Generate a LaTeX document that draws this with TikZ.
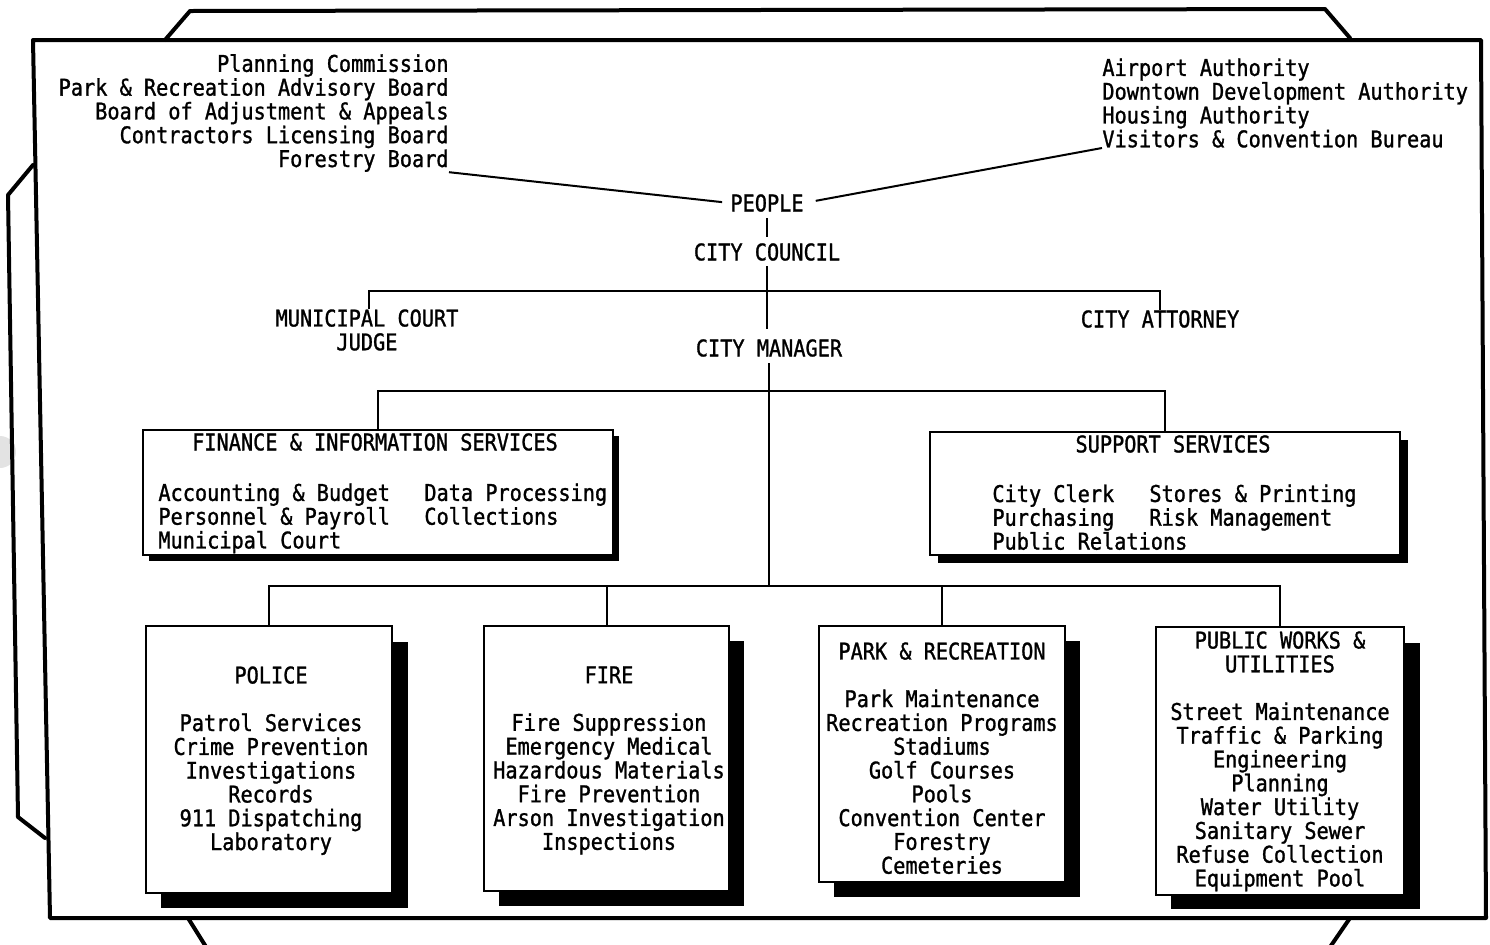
\documentclass[tikz,border=0pt]{standalone}
\usepackage{fontspec}
\newfontfamily\dm[FakeStretch=0.88,FakeBold=1.2]{DejaVu Sans Mono}
\usetikzlibrary{fit,calc}
\begin{document}
\begin{tikzpicture}[x=0.5pt,y=-0.5pt,
  txt/.style={inner sep=0pt, font=\dm\fontsize{11.5pt}{11.9pt}\selectfont, align=center},
  frame/.style={line width=2pt, line join=round, line cap=round},
  link/.style={line width=1pt},
  dbox/.style={draw, line width=1pt, fill=white, inner sep=0pt},
  shade/.style={fill=black}]
\useasboundingbox (0,0) rectangle (1490,944);
% scan hole
\fill[gray!22] (0,452) circle (16);
% folder frame
\draw[frame] (33,40) -- (1481,40) -- (1486,918) -- (50,918) -- cycle;
\draw[frame] (165,40) -- (190,11) -- (1325,9) -- (1350,38);
\draw[frame] (33,165) -- (8,195) -- (18,817) -- (45,838);
\draw[frame] (188,918) -- (208,950);
\draw[frame] (1350,918) -- (1328,950);

% top texts
\node[txt, anchor=east, align=right] (boards) at (449,113)
  {Planning Commission\\Park \& Recreation Advisory Board\\Board of Adjustment \& Appeals\\Contractors Licensing Board\\Forestry Board};
\node[txt, anchor=west, align=left] (auth) at (1102,103)
  {Airport Authority\\Downtown Development Authority\\Housing Authority\\Visitors \& Convention Bureau};
\node[txt] (people) at (767,203) {PEOPLE};
\node[txt] (council) at (767,252) {CITY COUNCIL};
\node[txt] (judge) at (367,330) {MUNICIPAL COURT\\JUDGE};
\node[txt] (attorney) at (1160,319) {CITY ATTORNEY};
\node[txt] (manager) at (769,348) {CITY MANAGER};

\coordinate (b1l) at (369,291);
\coordinate (b1r) at (1160,291);
\coordinate (b2l) at (378,391);
\coordinate (b2r) at (1165,391);
\coordinate (b3c) at (769,586);
\coordinate (b3l) at (269,586);
\coordinate (b3r) at (1280,586);

% shadows and boxes
\fill[shade] (149,436) rectangle (619,561);
\node[dbox, fit={(143,430)(613,555)}] (fin) {};
\fill[shade] (938,440) rectangle (1408,563);
\node[dbox, fit={(930,432)(1400,555)}] (sup) {};
\fill[shade] (161,642) rectangle (408,908);
\node[dbox, fit={(146,626)(392,893)}] (police) {};
\fill[shade] (499,641) rectangle (744,906);
\node[dbox, fit={(484,626)(729,891)}] (fire) {};
\fill[shade] (834,641) rectangle (1080,897);
\node[dbox, fit={(819,626)(1065,882)}] (park) {};
\fill[shade] (1171,643) rectangle (1420,909);
\node[dbox, fit={(1156,627)(1404,895)}] (pw) {};

% connectors
\draw[link, shorten >=4pt] (boards.south east) -- (people.west);
\draw[link, shorten >=6pt] (auth.south west) -- (people.east);
\draw[link, shorten <=3pt, shorten >=3pt] (people.south) -- (council.north);
\draw[link, shorten <=2.5pt, shorten >=5pt] (council.south) -- (council.south |- manager.north);
\draw[link] (judge.north -| b1l) -- (b1l) -- (b1r) -- (attorney.north);
\draw[link, shorten <=3pt] (manager.south) -- (b3c);
\draw[link] (fin.north) -- (b2l) -- (b2r) -- (sup.north);
\draw[link] (police.north) -- (b3l) -- (b3r) -- (pw.north);
\draw[link] (fire.north) -- (fire.north |- b3c);
\draw[link] (park.north) -- (park.north |- b3c);

% box texts
\node[txt] (fintitle) at (375,442) {FINANCE \& INFORMATION SERVICES};
\node[txt, align=left, anchor=north west] (finA) at (158,483)
  {Accounting \& Budget\\Personnel \& Payroll\\Municipal Court};
\node[txt, align=left, anchor=north west] (finB) at (424,483)
  {Data Processing\\Collections};
\node[txt] (suptitle) at (1173,444) {SUPPORT SERVICES};
\node[txt, align=left, anchor=north west] (supA) at (992,484)
  {City Clerk\\Purchasing\\Public Relations};
\node[txt, align=left, anchor=north west] (supB) at (1149,484)
  {Stores \& Printing\\Risk Management};
\node[txt, anchor=north] (policetxt) at (271,666)
  {POLICE\\[11.9pt]Patrol Services\\Crime Prevention\\Investigations\\Records\\911 Dispatching\\Laboratory};
\node[txt, anchor=north] (firetxt) at (609,666)
  {FIRE\\[11.9pt]Fire Suppression\\Emergency Medical\\Hazardous Materials\\Fire Prevention\\Arson Investigation\\Inspections};
\node[txt, anchor=north] (parktxt) at (942,642)
  {PARK \& RECREATION\\[11.9pt]Park Maintenance\\Recreation Programs\\Stadiums\\Golf Courses\\Pools\\Convention Center\\Forestry\\Cemeteries};
\node[txt, anchor=north] (pwtxt) at (1280,631)
  {PUBLIC WORKS \&\\UTILITIES\\[11.9pt]Street Maintenance\\Traffic \& Parking\\Engineering\\Planning\\Water Utility\\Sanitary Sewer\\Refuse Collection\\Equipment Pool};
\end{tikzpicture}
\end{document}
